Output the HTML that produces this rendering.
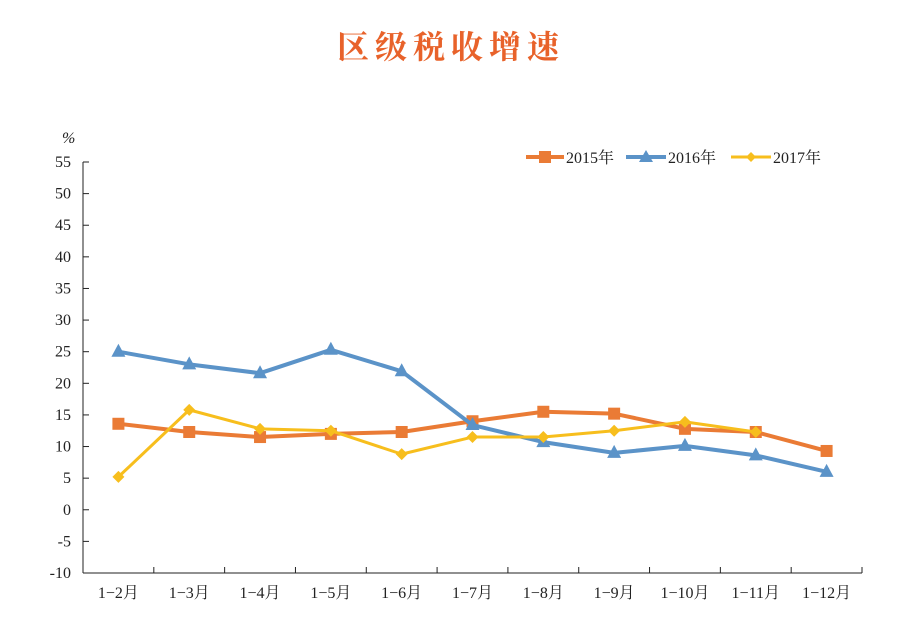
<!DOCTYPE html>
<html><head><meta charset="utf-8"><style>
body{margin:0;background:#fff;}
svg text{font-family:"Liberation Serif","Noto Serif CJK SC",serif;}
</style></head><body>
<svg id="c" width="902" height="624" xmlns="http://www.w3.org/2000/svg">
<text x="451" y="58" text-anchor="middle" font-size="32" font-weight="bold" fill="#e8622a" style="font-family:'Noto Serif CJK SC','Noto Sans CJK SC',serif;letter-spacing:6px">区级税收增速</text>
<text x="62" y="143" font-size="16" font-style="italic" fill="#222">%</text>
<g id="axes"></g><g id="series"></g>
<g>
<g><line x1="526" y1="157" x2="564" y2="157" stroke="#ea7b35" stroke-width="4"/><rect x="539" y="151" width="12" height="12" fill="#ea7b35"/><text x="566" y="163" font-size="16" fill="#222">2015年</text></g>
<g><line x1="626" y1="157" x2="666" y2="157" stroke="#5b93c8" stroke-width="4"/><path d="M646,150 L653,162 L639,162Z" fill="#5b93c8"/><text x="668" y="163" font-size="16" fill="#222">2016年</text></g>
<g><line x1="731" y1="157" x2="771" y2="157" stroke="#f7be1d" stroke-width="3"/><path d="M751,152 L756,157 L751,162 L746,157Z" fill="#f7be1d"/><text x="773" y="163" font-size="16" fill="#222">2017年</text></g>
</g>
</svg>
<script>
const categories=["1−2月","1−3月","1−4月","1−5月","1−6月","1−7月","1−8月","1−9月","1−10月","1−11月","1−12月"];
const yTicks=[-10,-5,0,5,10,15,20,25,30,35,40,45,50,55];
const s2015=[13.6,12.3,11.5,12.0,12.3,14.0,15.5,15.2,12.8,12.3,9.3];
const s2016=[25.0,23.0,21.6,25.3,21.9,13.4,10.7,9.0,10.1,8.6,6.0];
const s2017=[5.2,15.8,12.8,12.5,8.8,11.5,11.5,12.5,13.9,12.3];
const NS="http://www.w3.org/2000/svg";
const x0=83,x1=862,yMin=-10,yMax=55,py0=573,py1=162;
const bw=(x1-x0)/categories.length;
function X(i){return x0+bw*(i+0.5);}
function Y(v){return py0-(v-yMin)/(yMax-yMin)*(py0-py1);}
function el(t,a,p){const e=document.createElementNS(NS,t);for(const k in a)e.setAttribute(k,a[k]);p.appendChild(e);return e;}
const ax=document.getElementById('axes');
const ya=el('line',{x1:x0,y1:py1,x2:x0,y2:py0,stroke:'#222','stroke-width':1},ax);


const xa=el('line',{x1:x0,y1:py0,x2:x1,y2:py0,stroke:'#222','stroke-width':1},ax);


yTicks.forEach(v=>{
 el('line',{x1:x0,y1:Y(v),x2:x0+6,y2:Y(v),stroke:'#222'},ax);
 const t=el('text',{x:x0-12,y:Y(v)+5,'text-anchor':'end','font-size':16,fill:'#222'},ax);
 t.textContent=v;
 
 
});
categories.forEach((c,i)=>{
 el('line',{x1:x0+bw*(i+1),y1:py0,x2:x0+bw*(i+1),y2:py0-6,stroke:'#222'},ax);
 const t=el('text',{x:X(i),y:py0+25,'text-anchor':'middle','font-size':16,fill:'#222'},ax);
 t.textContent=c;
 
 
});
const sg=document.getElementById('series');
function draw(data,color,w,mk,name){
 const g=el('g',{},sg);
 
 
 el('polyline',{points:data.map((v,i)=>X(i)+','+Y(v)).join(' '),fill:'none',stroke:color,'stroke-width':w,'stroke-linejoin':'round'},g);
 data.forEach((v,i)=>{
  const x=X(i),y=Y(v);let m;
  if(mk==='sq')m=el('rect',{x:x-6,y:y-6,width:12,height:12,fill:color},g);
  else if(mk==='tri')m=el('path',{d:`M${x},${y-8}L${x+7},${y+5}L${x-7},${y+5}Z`,fill:color},g);
  else m=el('path',{d:`M${x},${y-6}L${x+6},${y}L${x},${y+6}L${x-6},${y}Z`,fill:color},g);
  
  
 });
}
draw(s2015,'#ea7b35',4,'sq','series-2015');
draw(s2016,'#5b93c8',4,'tri','series-2016');
draw(s2017,'#f7be1d',3,'dia','series-2017');
</script>
</body></html>
